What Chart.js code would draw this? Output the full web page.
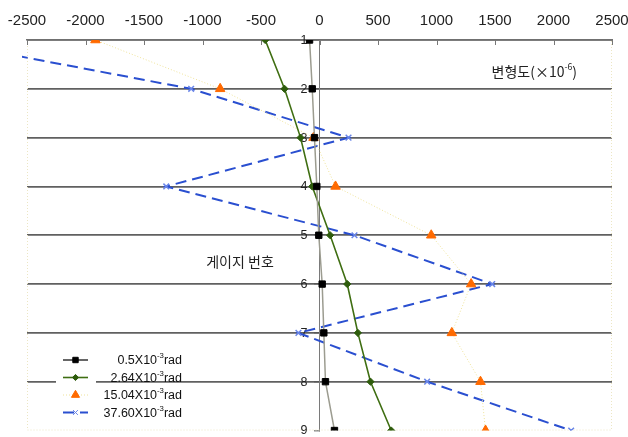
<!DOCTYPE html>
<html>
<head>
<meta charset="utf-8">
<script src="https://cdn.jsdelivr.net/npm/chart.js@4.4.1/dist/chart.umd.min.js"></script>
<style>
  html, body { margin: 0; padding: 0; background: #fff; }
  #wrap { width: 628px; height: 437px; position: relative; }
</style>
</head>
<body>
<div id="wrap"><canvas id="c" width="628" height="437"></canvas></div>
<script>
// Gauge numbers (vertical axis, top to bottom)
const gauges = [1, 2, 3, 4, 5, 6, 7, 8, 9];
// Strain (x10^-6) at each gauge, one array per rotation level
const strain050 = [-85, -62, -43, -23, -6, 23, 37, 51, 128];
const strain264 = [-464, -299, -162, -62, 91, 237, 328, 436, 613];
const strain1504 = [-1915, -849, -51, 137, 955, 1296, 1131, 1376, 1419];
const strain3760 = [-3300, -1097, 248, -1310, 299, 1476, -180, 920, 2151];
// Rotation levels used in the legend (x10^-3 rad)
const rotations = ['0.5', '2.64', '15.04', '37.60'];
// Strain axis ticks
const strainTicks = [-2500, -2000, -1500, -1000, -500, 0, 500, 1000, 1500, 2000, 2500];

const FONT = "'Liberation Sans', Arial, sans-serif";
const KFONT = "'Noto Sans CJK KR', 'Noto Sans', sans-serif";

const toPoints = arr => arr.map((v, i) => ({ x: v, y: gauges[i] }));

const styles = [
  { borderColor: '#9c9c90', borderWidth: 1.5, borderDash: [], pointStyle: 'rect', pointRadius: 4.5,
    pointBackgroundColor: '#000', pointBorderColor: '#000', sampleLine: '#333' },
  { borderColor: '#3f6e12', borderWidth: 1.6, borderDash: [], pointStyle: 'rectRot', pointRadius: 3.6,
    pointBackgroundColor: '#2e5c0c', pointBorderColor: '#2e5c0c', sampleLine: '#3f6e12' },
  { borderColor: '#efe39a', borderWidth: 1, borderDash: [1, 2], pointStyle: 'triangle', pointRadius: 5.5,
    pointBackgroundColor: '#ff6a00', pointBorderColor: '#ff6a00', sampleLine: '#efe39a' },
  { borderColor: '#2a4fd0', borderWidth: 2, borderDash: [11, 6], pointStyle: 'crossRot', pointRadius: 4,
    pointBackgroundColor: '#2a4fd0', pointBorderColor: '#6a86e8', sampleLine: '#2a4fd0' }
];
const seriesData = [strain050, strain264, strain1504, strain3760];

const datasets = seriesData.map((arr, i) => ({
  label: rotations[i] + 'X10-3rad',
  data: toPoints(arr),
  showLine: true,
  fill: false,
  tension: 0,
  borderColor: styles[i].borderColor,
  borderWidth: styles[i].borderWidth,
  borderDash: styles[i].borderDash,
  pointStyle: styles[i].pointStyle,
  pointRadius: styles[i].pointRadius,
  pointBackgroundColor: styles[i].pointBackgroundColor,
  pointBorderColor: styles[i].pointBorderColor,
  pointBorderWidth: i === 3 ? 1.5 : 1,
  clip: { left: 5, right: 0, top: 0, bottom: 0 }
}));

// text with a small raised exponent: parts = [[text, isSup], ...]
function drawRich(ctx, parts, xRight, y, size, family, color) {
  const widths = parts.map(([t, sup]) => {
    ctx.font = (sup ? size * 0.62 : size) + 'px ' + family;
    return ctx.measureText(t).width;
  });
  let x = xRight - widths.reduce((a, b) => a + b, 0);
  ctx.fillStyle = color;
  ctx.textBaseline = 'middle';
  ctx.textAlign = 'left';
  parts.forEach(([t, sup], k) => {
    ctx.font = (sup ? size * 0.62 : size) + 'px ' + family;
    ctx.fillText(t, x, sup ? y - size * 0.38 : y);
    x += widths[k];
  });
}

const decor = {
  id: 'decor',
  beforeDatasetsDraw(chart) {
    const { ctx, chartArea: a, scales } = chart;
    ctx.save();
    // faint plot frame
    ctx.strokeStyle = '#ece6c4';
    ctx.lineWidth = 1;
    ctx.setLineDash([1, 2]);
    ctx.beginPath();
    ctx.moveTo(a.left + 0.5, a.top);
    ctx.lineTo(a.left + 0.5, a.bottom - 0.5);
    ctx.lineTo(a.right - 0.5, a.bottom - 0.5);
    ctx.lineTo(a.right - 0.5, a.top);
    ctx.stroke();
    ctx.setLineDash([]);
    // inward tick marks on the strain axis
    ctx.strokeStyle = '#777';
    ctx.lineWidth = 1;
    strainTicks.forEach(v => {
      const px = Math.round(scales.x.getPixelForValue(v)) + 0.5;
      ctx.beginPath();
      ctx.moveTo(px, a.top);
      ctx.lineTo(px, a.top + 5);
      ctx.stroke();
    });
    // gauge numbers beside the vertical axis (which crosses at strain 0)
    const x0 = scales.x.getPixelForValue(0);
    ctx.font = '12.5px ' + FONT;
    ctx.fillStyle = '#222';
    ctx.textAlign = 'right';
    ctx.textBaseline = 'middle';
    gauges.forEach(g => ctx.fillText(String(g), x0 - 12, scales.y.getPixelForValue(g) + 0.5));
    // axis captions
    drawRich(ctx, [['변형도(×10', false], ['-6', true], [')', false]], 577, 72, 14, KFONT, '#222');
    ctx.font = '14px ' + KFONT;
    ctx.fillStyle = '#222';
    ctx.textAlign = 'center';
    ctx.textBaseline = 'middle';
    ctx.fillText('게이지 번호', 240, 262);
    ctx.restore();
  },
  afterDatasetsDraw(chart) {
    const { ctx } = chart;
    ctx.save();
    ctx.fillStyle = '#fff';
    ctx.fillRect(56, 350, 40, 70);
    chart.data.datasets.forEach((ds, i) => {
      const y = 360 + i * 17.5;
      const st = styles[i];
      ctx.strokeStyle = st.sampleLine;
      ctx.lineWidth = st.borderWidth;
      ctx.setLineDash(st.borderDash);
      ctx.beginPath();
      ctx.moveTo(63, y);
      ctx.lineTo(88, y);
      ctx.stroke();
      ctx.setLineDash([]);
      ctx.fillStyle = st.pointBackgroundColor;
      ctx.strokeStyle = st.pointBorderColor;
      ctx.lineWidth = 1;
      Chart.helpers.drawPoint(ctx, { pointStyle: st.pointStyle, radius: st.pointRadius * 0.85, rotation: 0, borderWidth: 1 }, 75.5, y);
      drawRich(ctx, [[rotations[i] + 'X10', false], ['-3', true], ['rad', false]], 182, y + 1, 12.5, FONT, '#111');
    });
    ctx.restore();
  }
};

new Chart(document.getElementById('c'), {
  type: 'scatter',
  data: { datasets },
  options: {
    responsive: false,
    animation: false,
    layout: { padding: { left: 27, right: 16, top: 0, bottom: 5 } },
    plugins: { legend: { display: false }, tooltip: { enabled: false } },
    scales: {
      x: {
        type: 'linear',
        position: 'top',
        min: -2500,
        max: 2500,
        afterBuildTicks: s => { s.ticks = strainTicks.map(v => ({ value: v })); },
        afterFit: s => { s.height = 40; s.paddingLeft = 0; s.paddingRight = 0; },
        ticks: { color: '#222', font: { size: 15, family: FONT }, padding: 10, maxRotation: 0,
                 callback: v => String(v) },
        grid: { drawOnChartArea: false, drawTicks: false },
        border: { color: '#707070', width: 1.5 }
      },
      y: {
        type: 'linear',
        position: { x: 0 },
        reverse: true,
        min: 1,
        max: 9,
        afterBuildTicks: s => { s.ticks = gauges.map(v => ({ value: v })); },
        afterFit: s => { s.paddingTop = 0; s.paddingBottom = 0; },
        ticks: { display: false },
        grid: {
          color: c => (c.tick && c.tick.value === 9) ? 'rgba(0,0,0,0)' : '#606060',
          lineWidth: 1.7,
          drawTicks: true,
          tickLength: 5,
          tickColor: '#555',
          tickWidth: 1
        },
        border: { color: '#7a7a7a', width: 1 }
      }
    }
  },
  plugins: [decor]
});
</script>
</body>
</html>
